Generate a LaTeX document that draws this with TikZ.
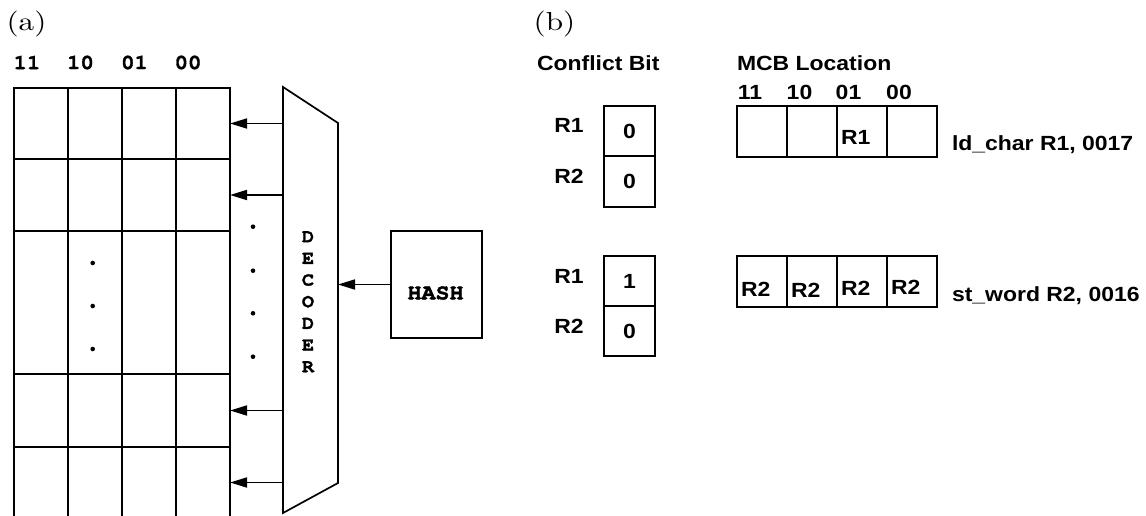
\documentclass[tikz,border=0pt]{standalone}
\usepackage{fontspec}
\usetikzlibrary{arrows.meta}
\newfontfamily\helv{Liberation Sans}[FakeStretch=1.12]
\newfontfamily\cour{texgyrecursor-bold}[Extension=.otf, FakeStretch=1.06, FakeBold=1.6]
\newfontfamily\lmrom{lmroman10-regular}[Extension=.otf, FakeStretch=1.2]
\begin{document}
\begin{tikzpicture}[x=1pt, y=-1pt, line width=1.7pt,
  box/.style={draw, rectangle, inner sep=0pt, outer sep=0pt},
  arr/.style={-{Triangle[length=17pt, width=10pt]}},
  plain/.style={inner sep=0pt, outer sep=0pt},
  tag/.style={plain, font=\lmrom\fontsize{26}{30}\selectfont},
  monolbl/.style={plain, font=\cour\fontsize{21}{24}\selectfont},
  sanslbl/.style={plain, font=\helv\bfseries\fontsize{20.5}{24}\selectfont}]
\useasboundingbox (0,0) rectangle (1146,516);

% ---------------- part (a): table, decoder, hash ----------------
\node[tag] (taga) at (26.5,24) {(a)};

\node[monolbl] (ca1) at (27,62.5) {11};
\node[monolbl] (ca2) at (80.5,62.5) {10};
\node[monolbl] (ca3) at (134.5,62.5) {01};
\node[monolbl] (ca4) at (188,62.5) {00};

% table rows: index / top / bottom
\foreach \r/\t/\b in {1/88/159, 2/159/231, 3/231/374, 4/374/447, 5/447/518}{
  \foreach \c/\xl in {1/14, 2/68, 3/122, 4/176}{
    \pgfmathsetmacro\hh{\b-\t}
    \pgfmathsetmacro\yc{(\b+\t)/2}
    \node[box, minimum width=54pt, minimum height=\hh pt] (g\r\c) at (\xl+27,\yc) {};
  }
}
% elided rows
\foreach \yy in {263,306,349} \fill (92.7,\yy) circle (2.3pt);

% decoder
\draw (283,87) -- (338,123) -- (338,483) -- (283,513) -- cycle;
\node[monolbl, font=\cour\fontsize{19}{21.67}\selectfont, align=center]
  (declbl) at (308,301.7) {D\\E\\C\\O\\D\\E\\R};
\coordinate (dout1) at (283,123.5);
\coordinate (dout2) at (283,195);
\coordinate (dout4) at (283,410.5);
\coordinate (dout5) at (283,482.5);
\coordinate (din) at (338,284.5);
\foreach \yy in {226.7,270.7,313.3,356.7} \fill (253,\yy) circle (2.3pt);

\draw[arr] (dout1) -- (g14.east);
\draw[arr] (dout2) -- (g24.east);
\draw[arr] (dout4) -- (g44.east);
\draw[arr] (dout5) -- (g54.east);

% hash unit
\node[box, minimum width=91pt, minimum height=107pt] (hash) at (436.5,284.5) {};
\node[monolbl, font=\cour\fontsize{22}{24}\selectfont] (hashlbl) at (435.5,293) {HASH};
\draw[arr] (hash.west) -- (din);

% ---------------- part (b): conflict bits and MCB ----------------
\node[tag] (tagb) at (554.5,24) {(b)};
\node[sanslbl, anchor=base west] (cbhead) at (537,71) {Conflict Bit};
\node[sanslbl, anchor=base west] (mcbhead) at (737,71) {MCB Location};

\node[sanslbl] (cb1) at (750,92.5) {11};
\node[sanslbl] (cb2) at (799.5,92.5) {10};
\node[sanslbl] (cb3) at (848.5,92.5) {01};
\node[sanslbl] (cb4) at (899,92.5) {00};

% conflict bits, first access
\node[sanslbl] (ra1) at (569,125) {R1};
\node[sanslbl] (ra2) at (569,176) {R2};
\node[box, sanslbl, draw, minimum width=51pt, minimum height=50pt] (bita1) at (629.5,131) {0};
\node[box, sanslbl, draw, minimum width=51pt, minimum height=51pt] (bita2) at (629.5,181.5) {0};

% conflict bits, second access
\node[sanslbl] (rb1) at (569,276) {R1};
\node[sanslbl] (rb2) at (569,326) {R2};
\node[box, sanslbl, draw, minimum width=51pt, minimum height=50pt] (bitb1) at (629.5,281) {1};
\node[box, sanslbl, draw, minimum width=51pt, minimum height=50pt] (bitb2) at (629.5,331) {0};

% MCB entries
\foreach \c/\xc in {1/762, 2/812, 3/862, 4/912}{
  \node[box, minimum width=50pt, minimum height=51pt] (ma\c) at (\xc,131.5) {};
  \node[box, minimum width=50pt, minimum height=51pt] (mb\c) at (\xc,281.5) {};
}
\node[sanslbl, anchor=west] (ma3txt) at (841,137.5) {R1};
\node[sanslbl, anchor=west] (mb1txt) at (741,289) {R2};
\node[sanslbl, anchor=west] (mb2txt) at (791,290) {R2};
\node[sanslbl, anchor=west] (mb3txt) at (841,288) {R2};
\node[sanslbl, anchor=west] (mb4txt) at (891,287) {R2};

\node[sanslbl, anchor=base west] (ins1) at (952,150) {ld\_char R1, 0017};
\node[sanslbl, anchor=base west] (ins2) at (952,301) {st\_word R2, 0016};
\end{tikzpicture}
\end{document}
